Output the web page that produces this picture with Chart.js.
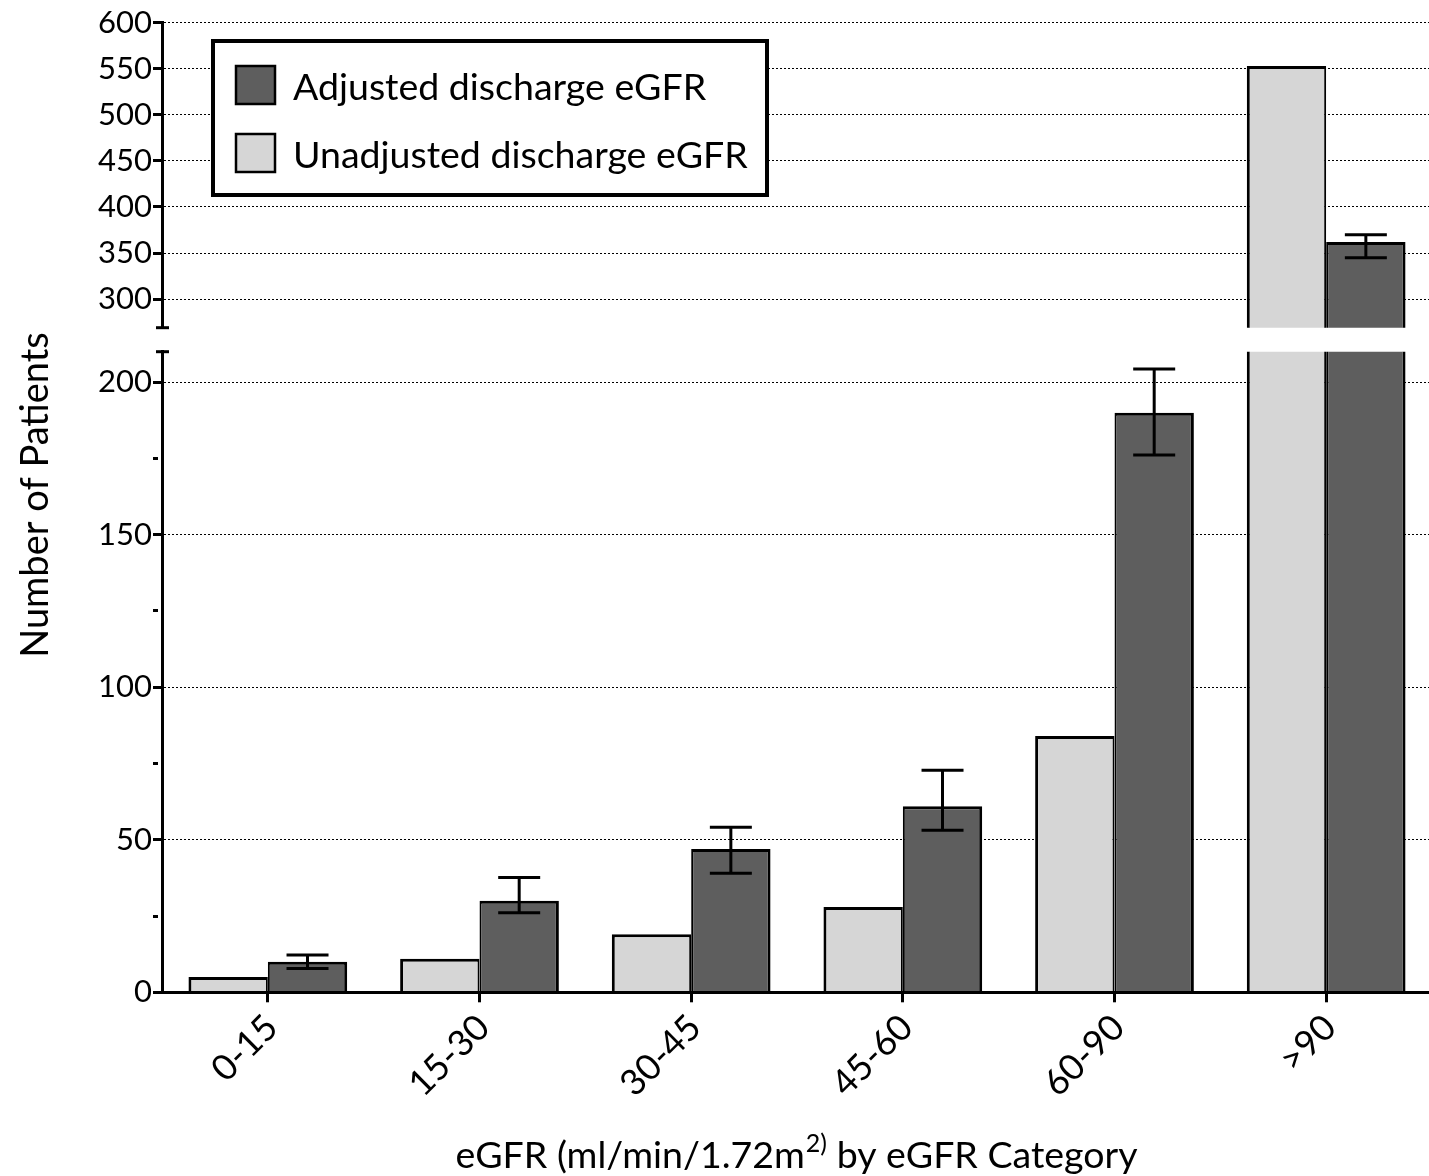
<!DOCTYPE html>
<html>
<head>
<meta charset="utf-8">
<script src="https://cdn.jsdelivr.net/npm/chart.js@4/dist/chart.umd.min.js"></script>
<style>
html,body{margin:0;padding:0;background:#fff;overflow:hidden;width:1429px;height:1176px;}
canvas{position:absolute;left:0;top:0;}
</style>
</head>
<body>
<canvas id="upper" width="1432" height="1176"></canvas>
<canvas id="lower" width="1432" height="1176"></canvas>
<script>
// ---------- data ----------
const categories = ['0-15', '15-30', '30-45', '45-60', '60-90', '>90'];
const unadjusted = [5, 11, 19, 28, 84, 553];
const adjusted = [10, 30, 47, 61, 190, 362];
const adjustedLow = [7.8, 26.1, 39.0, 53.1, 176.1, 345];
const adjustedHigh = [12.2, 37.6, 54.1, 72.8, 204.3, 370];
const upperTicks = [300, 350, 400, 450, 500, 550, 600];
const lowerTicks = [0, 25, 50, 75, 100, 125, 150, 175, 200];
const lowerLabelled = [0, 50, 100, 150, 200];
const upperRange = [269, 600];
const lowerRange = [0, 210];
const seriesNames = ['Unadjusted discharge eGFR', 'Adjusted discharge eGFR'];
const yTitle = 'Number of Patients';
const xTitleParts = ['eGFR (ml/min/1.72m', '2)', ' by eGFR Category'];

// ---------- style ----------
const FONT = 'Lato, "Open Sans", sans-serif';
const W = 1432, H = 1176;
const LEFT = 162;
const UP_TOP = 22.7, UP_BOTTOM = 327.7;
const LO_TOP = 351.7, LO_BOTTOM = 992.3;
const LIGHT = '#d6d6d6', DARK = '#5e5e5e';

const errorBars = {
  id: 'errorBars',
  afterDatasetsDraw(chart) {
    const meta = chart.getDatasetMeta(1);
    const y = chart.scales.y;
    const a = chart.chartArea;
    const ctx = chart.ctx;
    ctx.save();
    ctx.beginPath();
    ctx.rect(a.left, a.top - 1, a.right - a.left, a.bottom - a.top + 2);
    ctx.clip();
    ctx.strokeStyle = '#000';
    ctx.lineWidth = 3;
    meta.data.forEach((bar, i) => {
      const yt = y.getPixelForValue(adjustedHigh[i]);
      const yb = y.getPixelForValue(adjustedLow[i]);
      const half = 21;
      ctx.beginPath();
      ctx.moveTo(bar.x, yt); ctx.lineTo(bar.x, yb);
      ctx.moveTo(bar.x - half, yt); ctx.lineTo(bar.x + half, yt);
      ctx.moveTo(bar.x - half, yb); ctx.lineTo(bar.x + half, yb);
      ctx.stroke();
    });
    ctx.restore();
  }
};

const axisCap = {
  id: 'axisCap',
  afterDraw(chart, args, opts) {
    const a = chart.chartArea;
    const ctx = chart.ctx;
    const yy = opts.where === 'bottom' ? a.bottom : a.top;
    ctx.save();
    ctx.strokeStyle = '#000';
    ctx.lineWidth = 3;
    ctx.beginPath();
    ctx.moveTo(a.left - 6, yy); ctx.lineTo(a.left + 7, yy);
    ctx.stroke();
    ctx.restore();
  }
};

const boxLegend = {
  id: 'boxLegend',
  afterDraw(chart) {
    const ctx = chart.ctx;
    ctx.save();
    ctx.fillStyle = '#fff';
    ctx.fillRect(213, 41, 554, 154);
    ctx.strokeStyle = '#000';
    ctx.lineWidth = 4;
    ctx.strokeRect(213, 41, 554, 154);
    const items = chart.data.datasets.slice().reverse();
    items.forEach((ds, k) => {
      const cy = 85 + k * 68;
      ctx.fillStyle = ds.backgroundColor;
      ctx.fillRect(236, cy - 19, 39, 38);
      ctx.lineWidth = 2.5;
      ctx.strokeStyle = '#000';
      ctx.strokeRect(236, cy - 19, 39, 38);
      ctx.fillStyle = '#000';
      ctx.font = '37.5px ' + FONT;
      ctx.textAlign = 'left';
      ctx.textBaseline = 'alphabetic';
      ctx.fillText(ds.label, 293, cy + 15);
    });
    ctx.restore();
  }
};

const titles = {
  id: 'titles',
  afterDraw(chart) {
    const ctx = chart.ctx;
    ctx.save();
    ctx.fillStyle = '#000';
    // y title
    ctx.font = '38px ' + FONT;
    ctx.translate(48, 495);
    ctx.rotate(-Math.PI / 2);
    ctx.textAlign = 'center';
    ctx.textBaseline = 'alphabetic';
    ctx.fillText(yTitle, 0, 0);
    ctx.restore();
    // x title with superscript
    ctx.save();
    ctx.fillStyle = '#000';
    ctx.textBaseline = 'alphabetic';
    ctx.textAlign = 'left';
    const big = '37.5px ' + FONT, small = '25px ' + FONT;
    ctx.font = big; const w0 = ctx.measureText(xTitleParts[0]).width;
    ctx.font = small; const w1 = ctx.measureText(xTitleParts[1]).width;
    ctx.font = big; const w2 = ctx.measureText(xTitleParts[2]).width;
    let x = 796 - (w0 + w1 + w2) / 2;
    const base = 1168;
    ctx.font = big; ctx.fillText(xTitleParts[0], x, base); x += w0;
    ctx.font = small; ctx.fillText(xTitleParts[1], x + 1, base - 16); x += w1 + 1;
    ctx.font = big; ctx.fillText(xTitleParts[2], x, base);
    ctx.restore();
  }
};

function datasets() {
  return [
    { label: seriesNames[0], data: unadjusted, backgroundColor: LIGHT, borderColor: '#000',
      borderWidth: { top: 3, left: 3, right: 2, bottom: 0 }, borderSkipped: 'start',
      clip: 0, categoryPercentage: 0.75, barPercentage: 1 },
    { label: seriesNames[1], data: adjusted, backgroundColor: DARK, borderColor: '#000',
      borderWidth: { top: 3, left: 2, right: 3, bottom: 0 }, borderSkipped: 'start',
      clip: 0, categoryPercentage: 0.75, barPercentage: 1 }
  ];
}

function yAxis(range, ticks, labelled) {
  return {
    min: range[0], max: range[1],
    afterBuildTicks: s => { s.ticks = ticks.map(v => ({ value: v })); },
    afterFit: s => { s.width = LEFT; },
    ticks: {
      color: '#000', padding: 1,
      font: { family: FONT, size: 31 },
      callback: v => (labelled.includes(v) ? String(v) : '')
    },
    grid: {
      color: ctx => (ctx.tick && labelled.includes(ctx.tick.value) ? '#000' : 'rgba(0,0,0,0)'),
      lineWidth: 1, tickLength: 9, tickWidth: 3, tickColor: '#000',
      tickBorderDash: ctx => (ctx.tick && labelled.includes(ctx.tick.value) ? [] : [5, 40])
    },
    border: { display: true, color: '#000', width: 3, dash: [2, 2], z: 1 }
  };
}

new Chart(document.getElementById('upper'), {
  type: 'bar',
  data: { labels: categories, datasets: datasets() },
  options: {
    responsive: false, animation: false, devicePixelRatio: 1,
    layout: { padding: { left: 0, right: 0, top: UP_TOP, bottom: H - UP_BOTTOM } },
    plugins: { legend: { display: false }, tooltip: { enabled: false }, axisCap: { where: 'bottom' } },
    scales: {
      x: { display: false, offset: true },
      y: yAxis(upperRange, upperTicks, upperTicks)
    }
  },
  plugins: [errorBars, axisCap, boxLegend]
});

new Chart(document.getElementById('lower'), {
  type: 'bar',
  data: { labels: categories, datasets: datasets() },
  options: {
    responsive: false, animation: false, devicePixelRatio: 1,
    layout: { padding: { left: 0, right: 0, top: LO_TOP, bottom: 0 } },
    plugins: { legend: { display: false }, tooltip: { enabled: false }, axisCap: { where: 'top' } },
    scales: {
      x: {
        offset: true,
        afterFit: s => { s.height = H - LO_BOTTOM; },
        grid: { display: true, drawOnChartArea: false, offset: false, tickLength: 10, tickWidth: 3, tickColor: '#000' },
        border: { display: true, color: '#000', width: 3, z: 1 },
        ticks: { color: '#000', font: { family: FONT, size: 36 }, minRotation: 45, maxRotation: 45, padding: 4, labelOffset: 4, autoSkip: false }
      },
      y: yAxis(lowerRange, lowerTicks, lowerLabelled)
    }
  },
  plugins: [errorBars, axisCap, titles]
});
</script>
</body>
</html>
